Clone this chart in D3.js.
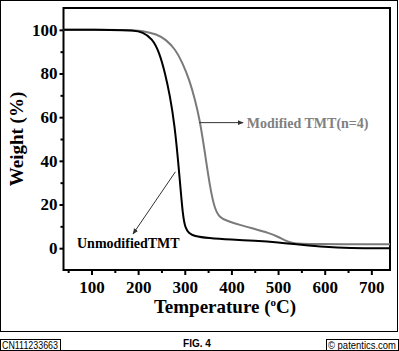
<!DOCTYPE html>
<html>
<head>
<meta charset="utf-8">
<script src="https://cdn.jsdelivr.net/npm/d3@7"></script>
<style>
  body { margin: 0; background: #fff; }
  svg { display: block; }
</style>
</head>
<body>
<div id="chart"></div>
<script>
// TGA curves
const unmodTemp   = [40, 150, 190, 210, 230, 245, 258, 268, 278, 288, 296, 302, 308, 320, 350, 400, 450, 500, 550, 600, 650, 740];
const unmodWeight = [100, 100, 99.8, 99, 96, 90, 80, 70, 57, 35, 14, 9, 7, 5.5, 4.6, 3.9, 3.4, 2.7, 1.6, 0.5, 0, 0];

const modTemp   = [40, 180, 210, 240, 260, 280, 295, 310, 322, 332, 343, 354, 364, 375, 390, 420, 450, 480, 500, 515, 530, 560, 740];
const modWeight = [100, 100, 99.6, 98, 95.5, 91, 85, 77, 68, 59, 44, 28, 18, 14, 12.5, 10.5, 8.8, 7, 5.2, 3.5, 2.2, 1.8, 1.8];

const xTicks = [100, 200, 300, 400, 500, 600, 700];
const xMinor = [50, 150, 250, 350, 450, 550, 650];
const yTicks = [0, 20, 40, 60, 80, 100];
const yMinor = [10, 30, 50, 70, 90];

const width = 399, height = 351;
const plot = {left: 63.5, right: 390, top: 8, bottom: 270};
const serif = "'Liberation Serif', 'Times New Roman', serif";
const sans = "'Liberation Sans', Arial, sans-serif";

const svg = d3.select("#chart").append("svg")
    .attr("width", width)
    .attr("height", height);

// outer frame of the sheet
svg.append("rect")
    .attr("x", 0.5).attr("y", 0.5)
    .attr("width", 397).attr("height", 331)
    .attr("fill", "none").attr("stroke", "#000");

svg.append("line")
    .attr("x1", 0).attr("x2", width)
    .attr("y1", 350.5).attr("y2", 350.5)
    .attr("stroke", "#000");

const x = d3.scaleLinear().domain([40, 740]).range([plot.left, plot.right]);
const y = d3.scaleLinear().domain([-10, 110]).range([plot.bottom, plot.top]);

// axes
const xAxis = svg.append("g")
    .attr("transform", `translate(0,${plot.bottom})`)
    .call(d3.axisBottom(x).tickValues(xTicks).tickSize(5).tickPadding(6).tickSizeOuter(0));
svg.append("g")
    .attr("transform", `translate(0,${plot.bottom})`)
    .call(d3.axisBottom(x).tickValues(xMinor).tickSize(3).tickFormat("").tickSizeOuter(0));

const yAxis = svg.append("g")
    .attr("transform", `translate(${plot.left},0)`)
    .call(d3.axisLeft(y).tickValues(yTicks).tickSize(4).tickPadding(2).tickSizeOuter(0));
svg.append("g")
    .attr("transform", `translate(${plot.left},0)`)
    .call(d3.axisLeft(y).tickValues(yMinor).tickSize(3).tickFormat("").tickSizeOuter(0));

svg.selectAll(".tick line").attr("stroke", "#000").attr("stroke-width", 2);
svg.selectAll(".domain").remove();

[xAxis, yAxis].forEach(a => a
    .attr("font-family", serif)
    .attr("font-size", 17)
    .attr("font-weight", "bold"));

// plot box
svg.append("rect")
    .attr("x", plot.left).attr("y", plot.top)
    .attr("width", plot.right - plot.left)
    .attr("height", plot.bottom - plot.top)
    .attr("fill", "none").attr("stroke", "#000").attr("stroke-width", 2);

// curves
const line = d3.line()
    .x(d => x(d[0]))
    .y(d => y(d[1]))
    .curve(d3.curveBasis);

const unmod = unmodTemp.map((t, i) => [t, unmodWeight[i]]);
const mod = modTemp.map((t, i) => [t, modWeight[i]]);

svg.append("path").datum(mod)
    .attr("d", line)
    .attr("fill", "none").attr("stroke", "#7a7a7a").attr("stroke-width", 2);

svg.append("path").datum(unmod)
    .attr("d", line)
    .attr("fill", "none").attr("stroke", "#000").attr("stroke-width", 2);

// arrowheads
const defs = svg.append("defs");
defs.append("marker")
    .attr("id", "arrow")
    .attr("viewBox", "0 0 10 10")
    .attr("refX", 9).attr("refY", 5)
    .attr("markerWidth", 6).attr("markerHeight", 6)
    .attr("markerUnits", "userSpaceOnUse")
    .attr("orient", "auto")
    .append("path")
    .attr("d", "M0,1L10,5L0,9Z")
    .attr("fill", "#333");

// annotation: modified
svg.append("line")
    .attr("x1", x(331)).attr("y1", y(57.5))
    .attr("x2", x(425)).attr("y2", y(57.5))
    .attr("stroke", "#333").attr("stroke-width", 1)
    .attr("marker-end", "url(#arrow)");

svg.append("text")
    .attr("x", x(433)).attr("y", y(57.5) + 5)
    .style("font-family", serif).style("font-size", "14px")
    .style("font-weight", "bold").attr("fill", "#808080")
    .text("Modified TMT(n=4)");

// annotation: unmodified
svg.append("line")
    .attr("x1", x(280)).attr("y1", y(35))
    .attr("x2", x(189)).attr("y2", y(6.5))
    .attr("stroke", "#333").attr("stroke-width", 1)
    .attr("marker-end", "url(#arrow)");

svg.append("text")
    .attr("x", 77).attr("y", 248)
    .style("font-family", serif).style("font-size", "14px")
    .style("font-weight", "bold").attr("fill", "#000")
    .text("UnmodifiedTMT");

// axis titles
svg.append("text")
    .attr("transform", `translate(23,${(plot.top + plot.bottom) / 2}) rotate(-90)`)
    .attr("text-anchor", "middle")
    .style("font-family", serif).style("font-size", "19px")
    .style("font-weight", "bold")
    .text("Weight (%)");

const xt = svg.append("text")
    .attr("x", 225).attr("y", 313)
    .attr("text-anchor", "middle")
    .style("font-family", serif).style("font-size", "19px")
    .style("font-weight", "bold");
xt.append("tspan").text("Temperature (");
xt.append("tspan").attr("dy", -7).style("font-size", "11px").text("o");
xt.append("tspan").attr("dy", 7).text("C)");

// footer
svg.append("rect")
    .attr("x", 0.5).attr("y", 339.5).attr("width", 60).attr("height", 11)
    .attr("fill", "none").attr("stroke", "#000");
svg.append("text")
    .attr("x", 2).attr("y", 349)
    .attr("textLength", 56).attr("lengthAdjust", "spacingAndGlyphs")
    .style("font-family", sans).style("font-size", "10px")
    .text("CN111233663");

svg.append("text")
    .attr("x", 197).attr("y", 347)
    .attr("text-anchor", "middle")
    .style("font-family", sans).style("font-size", "10px")
    .style("font-weight", "bold")
    .text("FIG. 4");

svg.append("rect")
    .attr("x", 326.5).attr("y", 339.5).attr("width", 72).attr("height", 11)
    .attr("fill", "none").attr("stroke", "#000");
svg.append("text")
    .attr("x", 328).attr("y", 349)
    .attr("textLength", 68).attr("lengthAdjust", "spacingAndGlyphs")
    .style("font-family", sans).style("font-size", "10px")
    .text("© patentics.com");
</script>
</body>
</html>
